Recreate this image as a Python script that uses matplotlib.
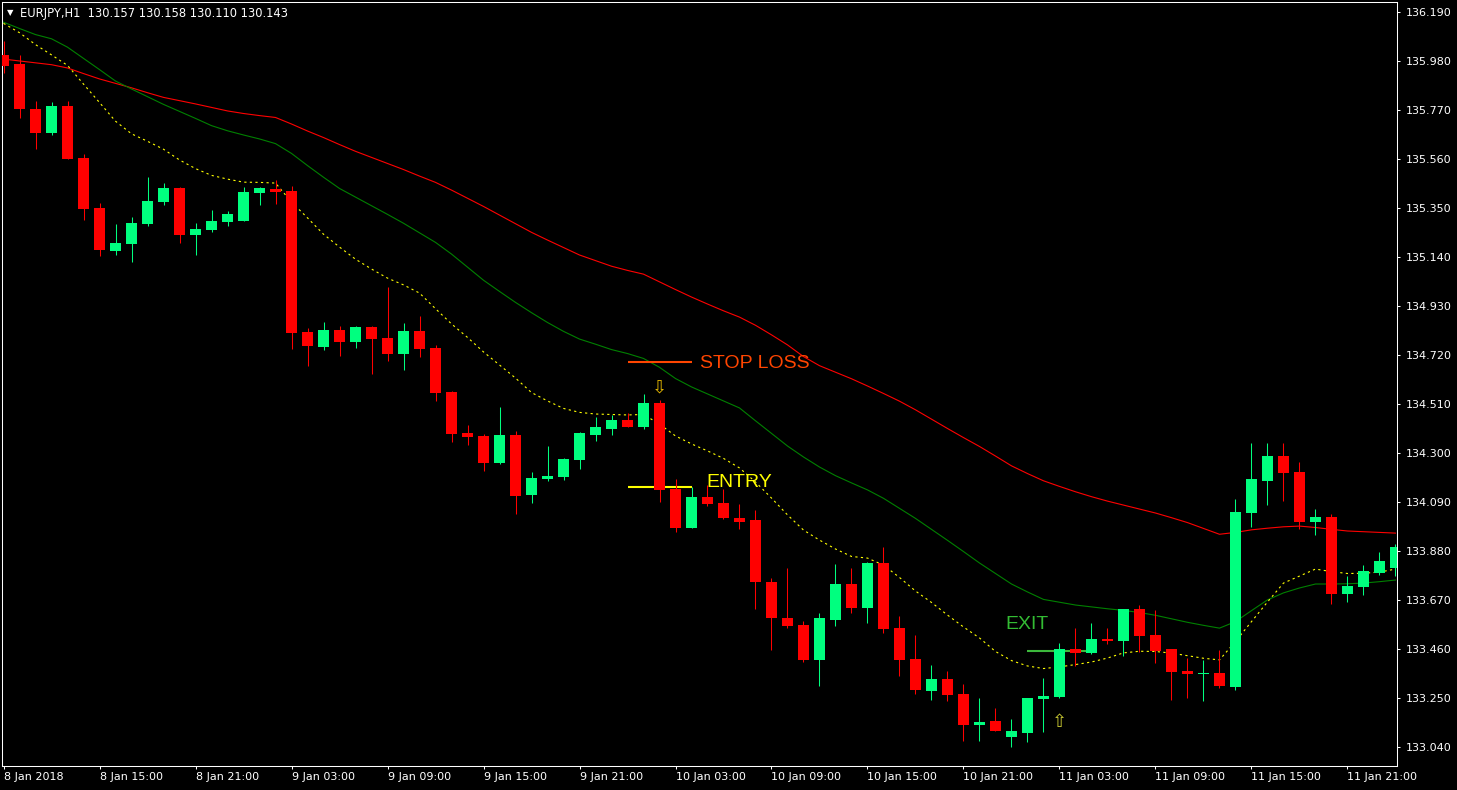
import matplotlib
matplotlib.use('Agg')
import matplotlib.pyplot as plt
import numpy as np

# EURJPY H1, 8 Jan 09:00 .. 11 Jan 23:00 (one bar per hour)
opens = [136.005, 135.966, 135.773, 135.672, 135.786, 135.563, 135.349, 135.166, 135.196, 135.282,
         135.376, 135.435, 135.235, 135.256, 135.291, 135.295, 135.415, 135.431, 135.422, 134.818,
         134.754, 134.827, 134.775, 134.840, 134.793, 134.724, 134.823, 134.750, 134.561, 134.386,
         134.373, 134.257, 134.377, 134.121, 134.190, 134.199, 134.271, 134.378, 134.403, 134.441,
         134.411, 134.514, 134.146, 133.980, 134.112, 134.086, 134.022, 134.013, 133.749, 133.595,
         133.563, 133.414, 133.586, 133.739, 133.638, 133.829, 133.551, 133.418, 133.282, 133.332,
         133.268, 133.136, 133.152, 133.085, 133.102, 133.248, 133.256, 133.461, 133.445, 133.503,
         133.496, 133.632, 133.521, 133.461, 133.366, 133.355, 133.358, 133.299, 134.044, 134.181,
         134.287, 134.219, 134.006, 134.026, 133.698, 133.728, 133.786, 133.809]
highs = [136.066, 136.005, 135.809, 135.803, 135.809, 135.581, 135.372, 135.281, 135.311, 135.482,
         135.456, 135.439, 135.285, 135.341, 135.336, 135.439, 135.439, 135.469, 135.444, 134.835,
         134.861, 134.844, 134.844, 134.844, 135.011, 134.857, 134.887, 134.763, 134.566, 134.420,
         134.381, 134.497, 134.394, 134.219, 134.330, 134.279, 134.390, 134.454, 134.464, 134.471,
         134.553, 134.527, 134.187, 134.154, 134.163, 134.146, 134.082, 134.056, 133.765, 133.808,
         133.582, 133.615, 133.825, 133.808, 133.833, 133.898, 133.602, 133.521, 133.392, 133.366,
         133.311, 133.251, 133.209, 133.161, 133.251, 133.336, 133.486, 133.551, 133.572, 133.551,
         133.632, 133.649, 133.628, 133.461, 133.422, 133.414, 133.456, 134.103, 134.343, 134.343,
         134.343, 134.262, 134.060, 134.040, 133.775, 133.820, 133.876, 133.910]
lows = [135.926, 135.733, 135.603, 135.663, 135.558, 135.299, 135.145, 135.149, 135.119, 135.274,
        135.363, 135.201, 135.149, 135.248, 135.274, 135.293, 135.363, 135.368, 134.745, 134.673,
        134.741, 134.716, 134.750, 134.638, 134.694, 134.656, 134.711, 134.523, 134.347, 134.334,
        134.223, 134.253, 134.040, 134.087, 134.181, 134.186, 134.233, 134.353, 134.378, 134.411,
        134.404, 134.092, 133.963, 133.979, 134.074, 134.017, 133.976, 133.633, 133.458, 133.552,
        133.406, 133.302, 133.559, 133.616, 133.573, 133.530, 133.346, 133.269, 133.244, 133.239,
        133.068, 133.068, 133.110, 133.042, 133.064, 133.106, 133.252, 133.389, 133.441, 133.483,
        133.432, 133.449, 133.402, 133.244, 133.252, 133.239, 133.292, 133.283, 133.984, 134.079,
        134.096, 133.976, 133.950, 133.655, 133.663, 133.693, 133.779, 133.775]
closes = [135.959, 135.772, 135.672, 135.786, 135.560, 135.345, 135.171, 135.199, 135.285, 135.379,
          135.435, 135.235, 135.259, 135.294, 135.324, 135.418, 135.435, 135.418, 134.814, 134.758,
          134.827, 134.775, 134.840, 134.788, 134.724, 134.823, 134.745, 134.557, 134.381, 134.369,
          134.257, 134.377, 134.117, 134.193, 134.202, 134.274, 134.386, 134.411, 134.441, 134.411,
          134.514, 134.143, 133.980, 134.112, 134.083, 134.023, 134.006, 133.749, 133.595, 133.560,
          133.414, 133.593, 133.739, 133.638, 133.829, 133.548, 133.415, 133.286, 133.332, 133.265,
          133.136, 133.148, 133.111, 133.109, 133.251, 133.259, 133.461, 133.445, 133.503, 133.495,
          133.632, 133.518, 133.453, 133.363, 133.355, 133.359, 133.303, 134.047, 134.189, 134.287,
          134.216, 134.006, 134.026, 133.698, 133.730, 133.795, 133.838, 133.898]

# moving averages, one value per bar
ma_slow = [135.987, 135.979, 135.971, 135.963, 135.949, 135.925, 135.902, 135.883, 135.864, 135.843,
           135.823, 135.809, 135.795, 135.780, 135.765, 135.754, 135.745, 135.737, 135.709, 135.679,
           135.651, 135.621, 135.592, 135.566, 135.540, 135.514, 135.486, 135.459, 135.426, 135.391,
           135.356, 135.319, 135.282, 135.245, 135.212, 135.180, 135.148, 135.124, 135.100, 135.082,
           135.066, 135.033, 135.000, 134.968, 134.938, 134.909, 134.882, 134.847, 134.806, 134.763,
           134.713, 134.674, 134.646, 134.618, 134.587, 134.555, 134.522, 134.485, 134.445, 134.405,
           134.366, 134.328, 134.287, 134.245, 134.212, 134.181, 134.157, 134.134, 134.113, 134.094,
           134.077, 134.060, 134.043, 134.023, 134.002, 133.977, 133.952, 133.960, 133.971, 133.978,
           133.984, 133.987, 133.981, 133.973, 133.966, 133.963, 133.960, 133.957]
ma_mid = [136.145, 136.118, 136.092, 136.074, 136.038, 135.990, 135.942, 135.893, 135.859, 135.826,
          135.793, 135.763, 135.733, 135.702, 135.680, 135.662, 135.645, 135.625, 135.583, 135.531,
          135.481, 135.433, 135.396, 135.359, 135.322, 135.284, 135.243, 135.202, 135.152, 135.096,
          135.040, 134.992, 134.945, 134.901, 134.859, 134.821, 134.788, 134.766, 134.743, 134.726,
          134.705, 134.667, 134.619, 134.583, 134.553, 134.523, 134.493, 134.438, 134.384, 134.330,
          134.283, 134.240, 134.203, 134.172, 134.142, 134.106, 134.063, 134.020, 133.973, 133.926,
          133.878, 133.829, 133.784, 133.739, 133.705, 133.673, 133.661, 133.649, 133.641, 133.633,
          133.626, 133.617, 133.605, 133.590, 133.575, 133.562, 133.550, 133.578, 133.625, 133.671,
          133.701, 133.722, 133.739, 133.739, 133.740, 133.743, 133.749, 133.756]
ma_fast = [136.140, 136.100, 136.049, 136.005, 135.960, 135.880, 135.801, 135.721, 135.667, 135.635,
           135.601, 135.555, 135.518, 135.489, 135.473, 135.460, 135.459, 135.456, 135.375, 135.307,
           135.237, 135.182, 135.130, 135.088, 135.049, 135.020, 134.985, 134.918, 134.853, 134.795,
           134.733, 134.677, 134.621, 134.559, 134.523, 134.491, 134.474, 134.467, 134.465, 134.463,
           134.465, 134.424, 134.373, 134.339, 134.309, 134.277, 134.236, 134.176, 134.107, 134.035,
           133.970, 133.927, 133.889, 133.857, 133.850, 133.820, 133.767, 133.709, 133.660, 133.606,
           133.555, 133.508, 133.450, 133.411, 133.388, 133.377, 133.384, 133.394, 133.405, 133.422,
           133.444, 133.451, 133.450, 133.443, 133.432, 133.421, 133.414, 133.493, 133.578, 133.662,
           133.743, 133.773, 133.803, 133.792, 133.784, 133.785, 133.790, 133.803]

price_ticks = [133.040, 133.250, 133.460, 133.670, 133.880, 134.090, 134.300, 134.510,
               134.720, 134.930, 135.140, 135.350, 135.560, 135.770, 135.980, 136.190]
time_labels = ['8 Jan 2018', '8 Jan 15:00', '8 Jan 21:00', '9 Jan 03:00', '9 Jan 09:00',
               '9 Jan 15:00', '9 Jan 21:00', '10 Jan 03:00', '10 Jan 09:00', '10 Jan 15:00',
               '10 Jan 21:00', '11 Jan 03:00', '11 Jan 09:00', '11 Jan 15:00', '11 Jan 21:00']

stop_loss = 134.691
entry = 134.156
exit_level = 133.453
sell_signal_bar = 41
buy_signal_bar = 66

bull = '#00FF7F'
bear = '#FF0000'

fig = plt.figure(figsize=(14.57, 7.90), dpi=100, facecolor='black')
ax = fig.add_axes([2 / 1457, 1 - 766 / 790, 1395 / 1457, 764 / 790])
ax.set_facecolor('black')

x = np.arange(len(opens))
o = np.array(opens)
c = np.array(closes)
cols = [bull if cc >= oo else bear for oo, cc in zip(opens, closes)]

# moving averages (behind the candles)
ax.plot(x, ma_slow, color='#FF0000', lw=0.8, zorder=1)
ax.plot(x, ma_mid, color='#008000', lw=0.8, zorder=1)
ax.plot(x, ma_fast, color='#FFFF00', lw=0.8, ls=(0, (2, 3)), zorder=1)

# trade levels
ax.hlines(stop_loss, 39, 43, color='#FF4500', lw=1.5, zorder=1)
ax.hlines(entry, 39, 43, color='#FFFF00', lw=1.5, zorder=1)
ax.hlines(exit_level, 64, 68, color='#3CB83C', lw=1.5, zorder=1)

# candles
ax.vlines(x, lows, highs, colors=cols, lw=0.75, zorder=2)
bottoms = np.minimum(o, c)
heights = np.maximum(np.abs(c - o), 0.004)
ax.bar(x, heights, bottom=bottoms, width=0.69, color=cols, linewidth=0, zorder=3)

# labels
ax.text(43.53, stop_loss - 0.028, 'STOP LOSS', color='#FF4500', fontsize=14,
        family='Liberation Sans', va='baseline', ha='left', zorder=4)
ax.text(43.95, entry - 0.003, 'ENTRY', color='#FFFF00', fontsize=14,
        family='Liberation Sans', va='baseline', ha='left', zorder=4)
ax.text(62.6, exit_level + 0.095, 'EXIT', color='#33BB33', fontsize=14,
        family='Liberation Sans', va='baseline', ha='left', zorder=4)

# signal arrows
ax.text(sell_signal_bar, highs[sell_signal_bar] + 0.054, '\u21e9', color='#E6B800',
        fontsize=13, ha='center', va='center', zorder=4)
ax.text(buy_signal_bar, lows[buy_signal_bar] - 0.104, '\u21e7', color='#CCCC33',
        fontsize=13, ha='center', va='center', zorder=4)

ax.set_xlim(-0.094, 87.094)
ax.set_ylim(132.9596, 136.2315)

ax.yaxis.tick_right()
ax.set_yticks(price_ticks)
ax.set_yticklabels(['%.3f' % p for p in price_ticks])
ax.set_xticks(np.arange(0, 6 * len(time_labels), 6))
ax.set_xticklabels(time_labels)
for lab in ax.get_xticklabels():
    lab.set_horizontalalignment('left')

ax.tick_params(axis='both', colors='white', labelcolor='white', labelsize=8,
               length=2.5, width=0.75, direction='out')
ax.tick_params(axis='y', pad=4)
ax.tick_params(axis='x', pad=2)
for s in ax.spines.values():
    s.set_color('white')
    s.set_linewidth(0.75)

fig.text(7 / 1457, 1 - 13 / 790, '\u25bc', color='white', fontsize=6, va='center', ha='left')
fig.text(20 / 1457, 1 - 13 / 790, 'EURJPY,H1  130.157 130.158 130.110 130.143',
         color='white', fontsize=8.3, va='center', ha='left')

fig.savefig('out.png', dpi=100, facecolor='black')
